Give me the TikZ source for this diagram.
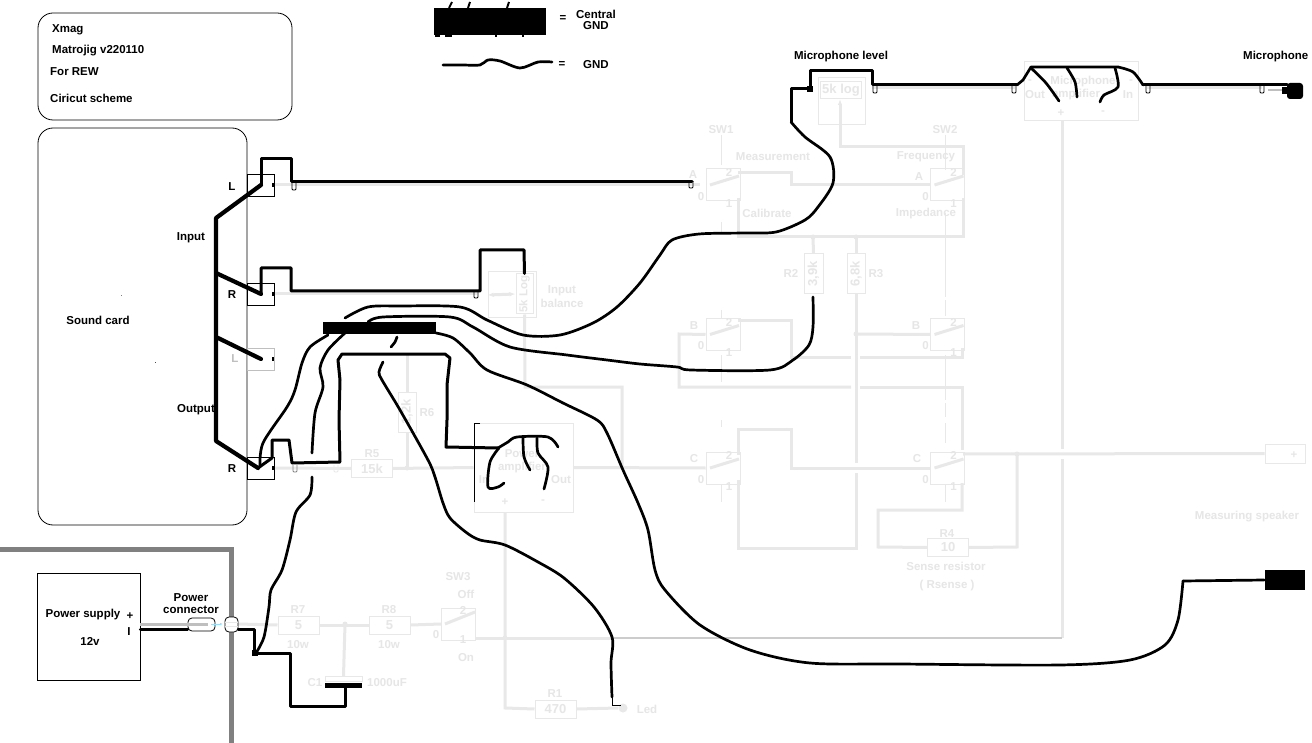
\documentclass[tikz,border=0pt]{standalone}
\usepackage{fontspec}
\setmainfont{Liberation Sans}
\usetikzlibrary{arrows.meta}
\definecolor{faint}{HTML}{E8E8E8}
\definecolor{fainttxt}{HTML}{E6E6E6}
\tikzset{
  txt/.style={inner sep=0pt,yshift=-1.5pt,font=\fontsize{11.5}{13}\selectfont\bfseries,align=center},
  ftxt/.style={txt,text=fainttxt},
  fline/.style={draw=faint,line width=3pt},
  fbox/.style={draw=faint,line width=1pt,inner sep=0pt,font=\fontsize{13}{15}\selectfont\bfseries,text=fainttxt},
  swbox/.style={fbox,minimum width=34,minimum height=32},
  resbox/.style={fbox,minimum width=41,minimum height=18},
  jackbox/.style={draw,line width=.8pt,minimum width=27,minimum height=22,inner sep=0pt},
  thin box/.style={draw,line width=.8pt,rounded corners=15pt},
  wire/.style={line width=3pt,line cap=round,line join=round},
  bus/.style={line width=4.2pt,line cap=round,line join=round},
  hand/.style={line width=2.7pt,line cap=round,line join=round},
  tap/.style={line width=.8pt,rounded corners=1pt},
  capsule/.style={fill=white,draw,line width=.8pt,rounded corners=4pt,inner sep=0pt},
  fdash/.style={draw=faint,line width=1pt},
  fdot/.style={circle,fill=faint,minimum size=5pt,inner sep=0pt},
}
\begin{document}
\begin{tikzpicture}[x=1pt,y=-1pt]
  \path[use as bounding box,fill=white] (0,0) rectangle (1312,743);

  % faint part of the scheme
  \foreach \n/\x/\y in {SA/723/185,SB/723/334.5,SC/723/468,TA/947.5/185,TB/947.5/334.5,TC/947.5/468}{
    \node[swbox] (\n) at (\x,\y) {};
    \draw[fline] ({\x-13},\y) -- ({\x+16},{\y-9});
    \node[ftxt] (\n0) at ({\x-22},{\y+10}) {0};
    \node[ftxt] (\n1) at ({\x+6},{\y+17}) {1};
    \node[ftxt] (\n2) at ({\x+6},{\y-14}) {2};
  }
  \node[swbox] (SW3) at (458.5,624) {};
  \draw[fline] (445,624) -- (475,612);
  \foreach \p/\q in {135/165,222/233,310/318,355/382,420/427,485/502}{
    \draw[fdash] (721,\p) -- (721,\q);
  }
  \foreach \p/\q in {135/170,213/297,300/316,355/400,403/417,423/443,485/502}{
    \draw[fdash] (945,\p) -- (945,\q);
  }

  \node[ftxt] (sw1) at (721,128) {SW1};
  \node[ftxt] (sw2) at (945,128) {SW2};
  \node[ftxt] (sw3) at (458,575) {SW3};
  \node[ftxt] (offl) at (466,593) {Off};
  \node[ftxt] (onl) at (466,656) {On};
  \node[ftxt] (sw32) at (463,609) {2};
  \node[ftxt] (sw31) at (463,638) {1};
  \node[ftxt] (sw30) at (436,633) {0};
  \node[ftxt] (la) at (693,173) {A};
  \node[ftxt] (lb) at (694,324) {B};
  \node[ftxt] (lc) at (694,457) {C};
  \node[ftxt] (ra) at (919,175) {A};
  \node[ftxt] (rb) at (916,324) {B};
  \node[ftxt] (rc) at (917,457) {C};
  \node[ftxt] (meas) at (773,155) {Measurement};
  \node[ftxt] (cali) at (767,212) {Calibrate};
  \node[ftxt] (freq) at (926,155) {Frequency};
  \node[ftxt] (impe) at (926,212) {Impedance};

  \node[fbox,minimum width=47,minimum height=47] (pot) at (841.5,101.5) {};
  \node[fbox,minimum width=41,minimum height=17] (potin) at (841,90.5) {5k log};
  \draw[fline,-{Latex[length=6pt]}] (840,125) -- (840,99);
  \node[fbox,minimum width=114,minimum height=59] (mic) at (1081,91.5) {};
  \node[ftxt] (micl) at (1083,80) {Microphone};
  \node[ftxt] (ampl) at (1076,93) {amplifier};
  \node[ftxt] (micout) at (1035,93) {Out};
  \node[ftxt] (micin) at (1128,93) {In};
  \node[ftxt] (micm1) at (1030,80) {-};
  \node[ftxt] (micm2) at (1131,80) {-};
  \node[ftxt] (micp) at (1061,112) {+};
  \node[ftxt] (micm) at (1103,111) {-};

  \node[fbox,minimum width=19,minimum height=40] (R2) at (813.5,274) {\rotatebox{90}{3,9k}};
  \node[fbox,minimum width=18,minimum height=40] (R3) at (856,274) {\rotatebox{90}{6,8k}};
  \node[ftxt] (r2l) at (791,272) {R2};
  \node[ftxt] (r3l) at (876,272) {R3};
  \node[fbox,minimum width=48,minimum height=46] (bal) at (512,295) {};
  \node[fbox,minimum width=17,minimum height=40,font=\fontsize{11.5}{13}\selectfont\bfseries] (balin) at (524.5,294) {\rotatebox{90}{5k Log}};
  \draw[fline,{Latex[length=6pt]}-{Latex[length=6pt]}] (bal.west) -- (balin.west);
  \node[ftxt] (baltxt) at (562,295) {Input\\[1pt]balance};
  \node[fbox,minimum width=18,minimum height=40] (R6) at (407,412) {\rotatebox{90}{1,2k}};
  \node[ftxt] (r6l) at (427,411) {R6};
  \node[resbox] (R5) at (372,468.5) {15k};
  \node[ftxt] (r5l) at (372,452) {R5};
  \node[fbox,minimum width=99,minimum height=89] (amp) at (523.5,467.5) {};
  \node[ftxt] (ampt) at (522,460) {Power\\amplifier};
  \node[ftxt] (ampin) at (484,478) {In};
  \node[ftxt] (ampout) at (561,478) {Out};
  \node[ftxt] (ampp) at (505,501) {+};
  \node[ftxt] (ampm) at (543,500) {-};
  \node[resbox] (R4) at (948,547.5) {10};
  \node[ftxt] (r4l) at (947,532) {R4};
  \node[ftxt] (sense) at (946,565) {Sense resistor};
  \node[ftxt] (rsense) at (947,584) {( Rsense )};
  \node[fbox,minimum width=40,minimum height=19] (spk) at (1285,453.5) {};
  \node[ftxt] (spkp) at (1294,454) {+};
  \node[ftxt] (spkl) at (1247,515) {Measuring speaker};
  \node[resbox] (R7) at (298.5,625) {5};
  \node[resbox] (R8) at (389.5,625) {5};
  \node[ftxt] (r7l) at (298,608) {R7};
  \node[ftxt] (r8l) at (389,608) {R8};
  \node[ftxt] (r7w) at (298,643) {10w};
  \node[ftxt] (r8w) at (389,643) {10w};
  \node[fbox,minimum width=37,minimum height=5] (C1t) at (343.5,679) {};
  \node[ftxt] (c1l) at (315,681) {C1};
  \node[ftxt,anchor=west] (c1v) at (367,681) {1000uF};
  \node[resbox] (R1) at (555.5,709) {470};
  \node[ftxt] (r1l) at (555,692) {R1};
  \node[fdot,minimum size=9pt] (led) at (623,708) {};
  \node[ftxt] (ledl) at (647,708) {Led};

  \draw[fline] (275,185) -- (700,185);
  \draw[fline] (275,294) -- (477,294);
  \draw[fline] (275,468) -- (R5.west);
  \draw[fline] (R5.east) -- (amp.west);
  \draw[fline] (amp.east) -- (SC.west);
  \draw[fline] (407,354) -- (R6.north);
  \draw[fline] (R6.south) -- (407,468);
  \draw[fline] (balin.south) -- (525,387) -- (622,387) -- (622,468);
  \draw[fline] (738,173) -- (791,173) -- (791,185) -- (TA.west);
  \draw[fline] (872,88) -- (1015,88);
  \draw[fline] (1147,88) -- (1262,88);
  \draw[fline] (840,125) -- (840,147) -- (963,147) -- (963,175);
  \draw[fline] (738,198) -- (738,237) -- (963,237) -- (963,198);
  \draw[fline] (813,237) -- (R2.north);
  \draw[fline] (856,237) -- (R3.north);
  \draw[fline] (R3.south) -- (856,463);
  \draw[fline] (856,473) -- (856,548) -- (738,548) -- (738,480);
  \draw[fline] (856,334) -- (TB.west);
  \draw[fline] (738,321) -- (791,321) -- (791,357) -- (851,357);
  \draw[fline] (860,357) -- (962,357) -- (962,348);
  \draw[fline] (SB.west) -- (679,334) -- (679,387) -- (851,387);
  \draw[fline] (860,387) -- (962,387) -- (962,450);
  \draw[fline] (738,455) -- (738,429) -- (791,429) -- (791,468) -- (TC.west);
  \draw[fline] (963,454) -- (spk.west);
  \draw[fline] (1017,454) -- (1017,547) -- (R4.east);
  \draw[fline] (R4.west) -- (878,547) -- (878,510) -- (962,510) -- (962,483);
  \draw[fline] (1062,121) -- (1062,449);
  \draw[fline] (1062,459) -- (1062,638);
  \draw[fline] (238,624) -- (R7.west);
  \draw[fline] (R7.east) -- (R8.west);
  \draw[fline] (R8.east) -- (SW3.west);
  \draw[fline] (345,624) -- (C1t.north);
  \draw[fline] (475,638) -- (612,638);
  \draw[line width=2.5pt,draw=black!20] (612,638) -- (1062,638);
  \draw[fline] (505,512) -- (505,708) -- (R1.west);
  \draw[fline] (R1.east) -- (led.west);
  \foreach \p/\q in {407/468,505/638,345/624,813/237,856/237,856/334,1017/454}{
    \node[fdot] (d\p) at (\p,\q) {};
  }

  % boxes
  \node[txt,anchor=west] (xmag) at (52,28.5) {Xmag};
  \node[txt,anchor=west] (mat) at (52,49) {Matrojig v220110};
  \node[txt,anchor=west] (rew) at (50,70.5) {For REW};
  \node[txt,anchor=west] (cir) at (50,96.5) {Ciricut scheme};
  \draw[thin box] (38,13) rectangle (292,120);
  \draw[thin box] (38,128) rectangle (247,525);
  \node[txt] (card) at (98,319) {Sound card};
  \fill[black!50] (120.5,295.5) rectangle (121.5,296.5);
  \fill[black!70] (154.5,362) rectangle (156,363);
  \node[txt] (inp) at (191,236) {Input};
  \node[txt] (outp) at (196,408) {Output};
  \node[jackbox] (jL) at (261,185) {};
  \node[jackbox] (jR) at (261,294) {};
  \node[jackbox,draw=black!25] (jO) at (261,359) {};
  \node[jackbox] (jS) at (261,468) {};
  \node[txt] (lL) at (232,185) {L};
  \node[txt] (lR) at (232,293) {R};
  \node[txt,text=black!25] (lO) at (235,357) {L};
  \node[txt] (lS) at (232,467) {R};
  \foreach \j in {jL,jR,jO,jS}{
    \draw[line width=1.5pt] (\j.center) ++(12,-2) -- ++(0,4);
  }
  \foreach \x/\y in {294/183,691/181,476/291,875/86,1014/86,1148/86,1262/86}{
    \draw[tap] ({\x-2},\y) -- ++(0,7) -- ++(4,0) -- ++(0,-7);
  }
  \draw[tap,black!50] (293,465) -- ++(0,7) -- ++(4,0) -- ++(0,-7);
  \draw[tap,faint] (334,465) -- ++(0,7) -- ++(4,0) -- ++(0,-7);

  % bus and shields
  \draw[bus] (jL.center) -- (216,218) -- (216,441) -- (258,468);
  \draw[bus] (216,273) -- (jR.center);
  \draw[bus] (216,337) -- (jO.center);
  \draw[wire] (jL.center) -- (261,159) -- (291,159) -- (291,182) -- (692,182);
  \draw[wire] (jR.center) -- (261,268) -- (291,268) -- (291,291) -- (480,291) -- (480,250) -- (524,250) -- (balin.north);
  \draw[wire] (258,468) -- (272,458) -- (272,440) -- (289,440) -- (292,463) -- (340,462) -- (339,420) -- (340,380) -- (338,360) -- (342,354) -- (445,354) -- (450,358) -- (447,385) -- (447,420) -- (446,447) -- (498,448);

  \fill (323,322) rectangle (436,334);
  \node[fill,minimum width=40,minimum height=20,inner sep=0pt] (blk) at (1284.5,580) {};
  \node[fill,minimum width=112,minimum height=27,inner sep=0pt] (cgndbar) at (490,21.5) {};
  \draw[wire,line cap=butt,line width=2pt] (449,8) -- (452,2);
  \draw[wire,line cap=butt,line width=2pt] (468,8) -- (470,2);
  \draw[wire,line cap=butt,line width=2pt] (507,8) -- (509,2);
  \foreach \p/\q in {435/440,445/452,495/497,522/524}{
    \fill (\p,35) rectangle (\q,37.5);
  }
  \node[txt] (eq1) at (563,17) {=};
  \node[txt] (cgnd) at (596,18.5) {Central\\[-2pt]GND};
  \node[txt] (eq2) at (562,63) {=};
  \node[txt] (gnd) at (596,63) {GND};
  \draw[hand] plot[smooth,tension=.5] coordinates {(443,65) (462,65) (480,65) (488,60) (500,61) (520,68) (538,62) (552,62)};

  % hand drawn wires
  \draw[hand] plot[smooth,tension=.5] coordinates {(328,335) (310,347) (302,363) (295,390) (287,407) (263,443) (260,467)};
  \draw[hand] plot[smooth,tension=.5] coordinates {(345,333) (328,350) (320,368) (323,387) (315,413) (312,453)};
  \draw[hand] plot[smooth,tension=.5] coordinates {(312,477) (310,495) (296,512) (290,540) (282,570) (271,590) (269,607) (264,637) (256,653)};
  \draw[hand] plot[smooth,tension=.5] coordinates {(397,337) (395,342) (391,347)};
  \draw[hand] plot[smooth,tension=.5] coordinates {(383,362) (379,372) (382,380) (400,410) (428,460) (435,477) (443,503) (450,518) (467,533) (480,540) (505,545) (538,562) (564,578) (594,607) (612,637) (611,663) (612,697)};
  \draw[line width=1pt] (612,697) -- (612,705) -- (621,705);
  \draw[hand] plot[smooth,tension=.5] coordinates {(436,333) (453,338) (470,353) (487,370) (527,385) (563,403) (597,420) (607,433) (623,470) (638,503) (648,530) (655,570) (665,590) (700,625) (750,650) (810,663) (900,664) (1060,665) (1130,660) (1165,645) (1178,620) (1183,581)};
  \draw[hand] (1183,581) -- (blk.west);
  \draw[hand] plot[smooth,tension=.5] coordinates {(345,318) (368,307) (400,306) (460,307) (487,320) (523,335) (560,335) (593,323) (617,307) (640,283) (660,255) (672,240) (699,234) (743,233) (776,232) (805,220) (818,207) (833,183) (830,157) (805,137) (791,122)};
  \draw[wire] (791,122) -- (791,89) -- (810,89);
  \draw[wire] (810,89) -- (810,71) -- (872,71) -- (872,85) -- (1017,85);
  \fill (807,86) rectangle (813,92);
  \draw[hand] plot[smooth,tension=.5] coordinates {(368,322) (383,317) (450,317) (473,327) (510,347) (567,355) (607,360) (640,364) (677,367) (691,370) (770,370) (793,360) (809,345) (813,327) (813,297)};
  \draw[hand] plot[smooth,tension=.5] coordinates {(498,448) (508,442) (517,437) (548,437) (558,447)};
  \draw[hand] plot[smooth,tension=.5] coordinates {(499,448) (490,462) (488,487) (498,487) (504,483)};
  \draw[hand] plot[smooth,tension=.5] coordinates {(523,438) (524,457) (530,470)};
  \draw[hand] plot[smooth,tension=.5] coordinates {(537,438) (538,453) (548,467) (544,489)};
  \draw[line width=.8pt] (480,423) -- (474,423) -- (474,502);
  \draw[hand] (1017,85) -- (1023,80) -- (1031,67) -- (1118,67);
  \draw[hand] plot[smooth,tension=.5] coordinates {(1118,67) (1133,72) (1143,85)};
  \draw[wire] (1143,85) -- (1287,85);
  \draw[hand] plot[smooth,tension=.5] coordinates {(1031,68) (1046,83) (1059,101)};
  \draw[hand] plot[smooth,tension=.5] coordinates {(1067,68) (1075,82) (1077,97)};
  \draw[hand] plot[smooth,tension=.5] coordinates {(1115,68) (1118,87) (1104,95) (1100,102)};
  \node[fill,rounded corners=3pt,minimum width=16,minimum height=16,inner sep=0pt] (plug) at (1295,91) {};
  \fill (1282,87) rectangle (1288,94);
  \draw[fline,line width=2pt,draw=black!25] (1268,90) -- (1282,90);
  \node[txt] (mlevel) at (841,55) {Microphone level};
  \node[txt,anchor=west] (mphone) at (1243,55) {Microphone};

  % power side
  \draw[line width=5pt,draw=black!50] (0,549) -- (231,549) -- (231,743);
  \node[draw,line width=.8pt,minimum width=103,minimum height=107,inner sep=0pt] (psu) at (88.5,627) {};
  \node[txt] (pstxt) at (83,613) {Power supply};
  \node[txt] (ps12) at (90,640) {12v};
  \node[txt] (psp) at (130,615) {+};
  \node[txt] (psm) at (129,630) {I};
  \node[txt] (pcon) at (191,602) {Power\\[-1pt]connector};
  \node[capsule,minimum width=27,minimum height=13] (conl) at (201.5,624.5) {};
  \node[capsule,minimum width=13,minimum height=15] (conr) at (231.5,624.5) {};
  \draw[faint,line width=1pt] (conr.west) ++(0,-2) -- ++(13,0);
  \draw[faint,line width=1pt] (conr.west) ++(0,2) -- ++(13,0);
  \draw[line width=3pt,draw=black!25] (psu.east |- 0,624) -- (208,624);
  \draw[wire] (psu.east |- 0,629) -- (conl.west |- 0,629);
  \draw[line width=.7pt,cyan!40,-{Latex[length=3pt]}] (211,624) -- (223,624);
  \draw[wire] (conr.east |- 0,629) -- (254,629) -- (254,653) -- (290,653) -- (290,706) -- (345,706) -- (345,686);
  \fill (252,650) rectangle (258,656);
  \fill (325,683) rectangle (362,688);
\end{tikzpicture}
\end{document}
